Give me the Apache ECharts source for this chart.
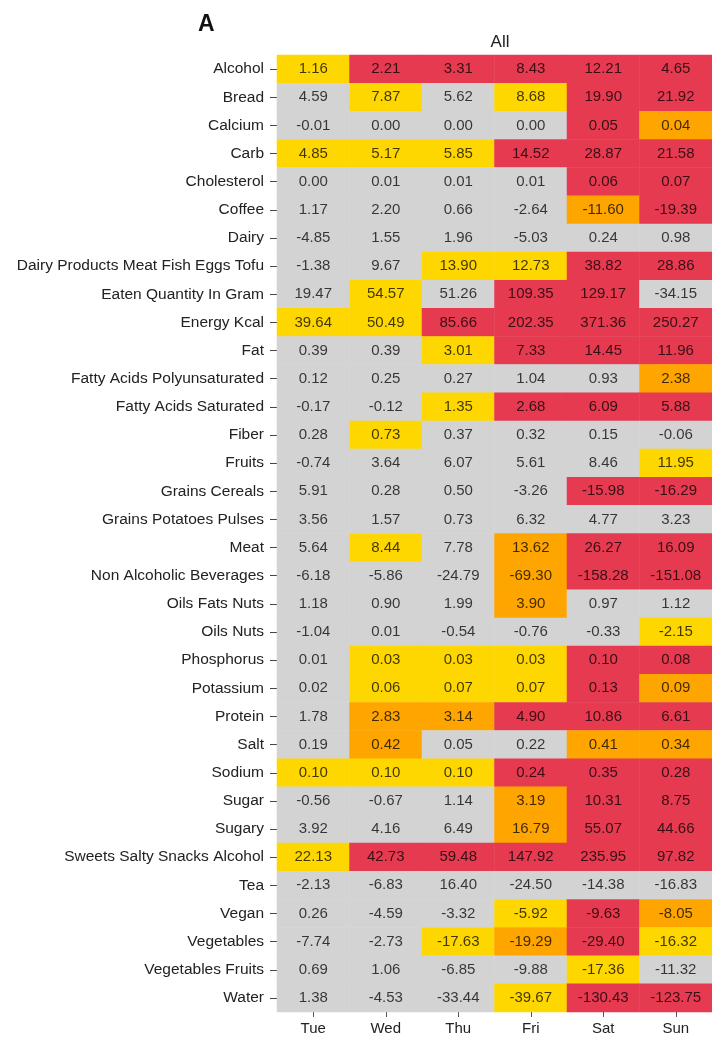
<!DOCTYPE html>
<html>
<head>
<meta charset="utf-8">
<script src="https://cdn.jsdelivr.net/npm/echarts@6/dist/echarts.min.js"></script>
<style>
  html, body { margin: 0; padding: 0; background: #fff; }
  #myChart { width: 712px; height: 1037px; }
</style>
</head>
<body>
<div id="myChart"></div>
<script>
// days on the x axis
var days = ['Tue', 'Wed', 'Thu', 'Fri', 'Sat', 'Sun'];

// variables on the y axis (top to bottom)
var variables = [
  'Alcohol', 'Bread', 'Calcium', 'Carb', 'Cholesterol', 'Coffee', 'Dairy',
  'Dairy Products Meat Fish Eggs Tofu', 'Eaten Quantity In Gram', 'Energy Kcal',
  'Fat', 'Fatty Acids Polyunsaturated', 'Fatty Acids Saturated', 'Fiber', 'Fruits',
  'Grains Cereals', 'Grains Potatoes Pulses', 'Meat', 'Non Alcoholic Beverages',
  'Oils Fats Nuts', 'Oils Nuts', 'Phosphorus', 'Potassium', 'Protein', 'Salt',
  'Sodium', 'Sugar', 'Sugary', 'Sweets Salty Snacks Alcohol', 'Tea', 'Vegan',
  'Vegetables', 'Vegetables Fruits', 'Water'
];

// estimates, one row per variable, Tue..Sun
var values = [
  [1.16, 2.21, 3.31, 8.43, 12.21, 4.65],
  [4.59, 7.87, 5.62, 8.68, 19.90, 21.92],
  [-0.01, 0.00, 0.00, 0.00, 0.05, 0.04],
  [4.85, 5.17, 5.85, 14.52, 28.87, 21.58],
  [0.00, 0.01, 0.01, 0.01, 0.06, 0.07],
  [1.17, 2.20, 0.66, -2.64, -11.60, -19.39],
  [-4.85, 1.55, 1.96, -5.03, 0.24, 0.98],
  [-1.38, 9.67, 13.90, 12.73, 38.82, 28.86],
  [19.47, 54.57, 51.26, 109.35, 129.17, -34.15],
  [39.64, 50.49, 85.66, 202.35, 371.36, 250.27],
  [0.39, 0.39, 3.01, 7.33, 14.45, 11.96],
  [0.12, 0.25, 0.27, 1.04, 0.93, 2.38],
  [-0.17, -0.12, 1.35, 2.68, 6.09, 5.88],
  [0.28, 0.73, 0.37, 0.32, 0.15, -0.06],
  [-0.74, 3.64, 6.07, 5.61, 8.46, 11.95],
  [5.91, 0.28, 0.50, -3.26, -15.98, -16.29],
  [3.56, 1.57, 0.73, 6.32, 4.77, 3.23],
  [5.64, 8.44, 7.78, 13.62, 26.27, 16.09],
  [-6.18, -5.86, -24.79, -69.30, -158.28, -151.08],
  [1.18, 0.90, 1.99, 3.90, 0.97, 1.12],
  [-1.04, 0.01, -0.54, -0.76, -0.33, -2.15],
  [0.01, 0.03, 0.03, 0.03, 0.10, 0.08],
  [0.02, 0.06, 0.07, 0.07, 0.13, 0.09],
  [1.78, 2.83, 3.14, 4.90, 10.86, 6.61],
  [0.19, 0.42, 0.05, 0.22, 0.41, 0.34],
  [0.10, 0.10, 0.10, 0.24, 0.35, 0.28],
  [-0.56, -0.67, 1.14, 3.19, 10.31, 8.75],
  [3.92, 4.16, 6.49, 16.79, 55.07, 44.66],
  [22.13, 42.73, 59.48, 147.92, 235.95, 97.82],
  [-2.13, -6.83, 16.40, -24.50, -14.38, -16.83],
  [0.26, -4.59, -3.32, -5.92, -9.63, -8.05],
  [-7.74, -2.73, -17.63, -19.29, -29.40, -16.32],
  [0.69, 1.06, -6.85, -9.88, -17.36, -11.32],
  [1.38, -4.53, -33.44, -39.67, -130.43, -123.75]
];

// significance level per cell: 0 = n.s., 1, 2, 3 = increasing significance
var levels = [
  [1, 3, 3, 3, 3, 3],
  [0, 1, 0, 1, 3, 3],
  [0, 0, 0, 0, 3, 2],
  [1, 1, 1, 3, 3, 3],
  [0, 0, 0, 0, 3, 3],
  [0, 0, 0, 0, 2, 3],
  [0, 0, 0, 0, 0, 0],
  [0, 0, 1, 1, 3, 3],
  [0, 1, 0, 3, 3, 0],
  [1, 1, 3, 3, 3, 3],
  [0, 0, 1, 3, 3, 3],
  [0, 0, 0, 0, 0, 2],
  [0, 0, 1, 3, 3, 3],
  [0, 1, 0, 0, 0, 0],
  [0, 0, 0, 0, 0, 1],
  [0, 0, 0, 0, 3, 3],
  [0, 0, 0, 0, 0, 0],
  [0, 1, 0, 2, 3, 3],
  [0, 0, 0, 2, 3, 3],
  [0, 0, 0, 2, 0, 0],
  [0, 0, 0, 0, 0, 1],
  [0, 1, 1, 1, 3, 3],
  [0, 1, 1, 1, 3, 2],
  [0, 2, 2, 3, 3, 3],
  [0, 2, 0, 0, 2, 2],
  [1, 1, 1, 3, 3, 3],
  [0, 0, 0, 2, 3, 3],
  [0, 0, 0, 2, 3, 3],
  [1, 3, 3, 3, 3, 3],
  [0, 0, 0, 0, 0, 0],
  [0, 0, 0, 1, 3, 2],
  [0, 0, 1, 2, 3, 1],
  [0, 0, 0, 0, 1, 0],
  [0, 0, 0, 1, 3, 3]
];

var levelColors = ['#d3d3d3', '#ffd700', '#ffa500', '#e53a50'];

var cells = [];
for (var i = 0; i < variables.length; i++) {
  for (var j = 0; j < days.length; j++) {
    cells.push([j, i, values[i][j], levels[i][j]]);
  }
}

var font = 'Liberation Sans, Arial, sans-serif';

var option = {
  animation: false,
  title: [
    { text: 'A', left: 193, top: 8, textStyle: { fontSize: 23, fontWeight: 'bold', color: '#111', fontFamily: font } },
    { text: 'All', left: 495, top: 29, textAlign: 'center', textStyle: { fontSize: 17, fontWeight: 'normal', color: '#222', fontFamily: font } }
  ],
  grid: { left: 277, right: 0, top: 55, bottom: 25 },
  xAxis: {
    type: 'category',
    data: days,
    position: 'bottom',
    axisLine: { show: false },
    axisTick: { show: true, alignWithLabel: true, length: 5, lineStyle: { color: '#555' } },
    axisLabel: { fontSize: 15, color: '#222', margin: 9, fontFamily: font }
  },
  yAxis: {
    type: 'category',
    data: variables,
    inverse: true,
    axisLine: { show: false },
    axisTick: { show: true, alignWithLabel: true, length: 7, lineStyle: { color: '#444' } },
    axisLabel: { fontSize: 15.5, color: '#222', margin: 13, fontFamily: font }
  },
  visualMap: {
    type: 'piecewise',
    show: false,
    dimension: 3,
    pieces: [
      { value: 0, color: levelColors[0] },
      { value: 1, color: levelColors[1] },
      { value: 2, color: levelColors[2] },
      { value: 3, color: levelColors[3] }
    ]
  },
  series: [{
    type: 'heatmap',
    data: cells,
    label: {
      show: true,
      fontSize: 15,
      fontFamily: font,
      color: 'rgba(0,0,0,0.75)',
      formatter: function (p) { return p.value[2].toFixed(2); }
    },
    itemStyle: { borderWidth: 0 },
    emphasis: { disabled: true }
  }]
};

var myChart = echarts.init(document.getElementById('myChart'));
myChart.setOption(option);
</script>
</body>
</html>
